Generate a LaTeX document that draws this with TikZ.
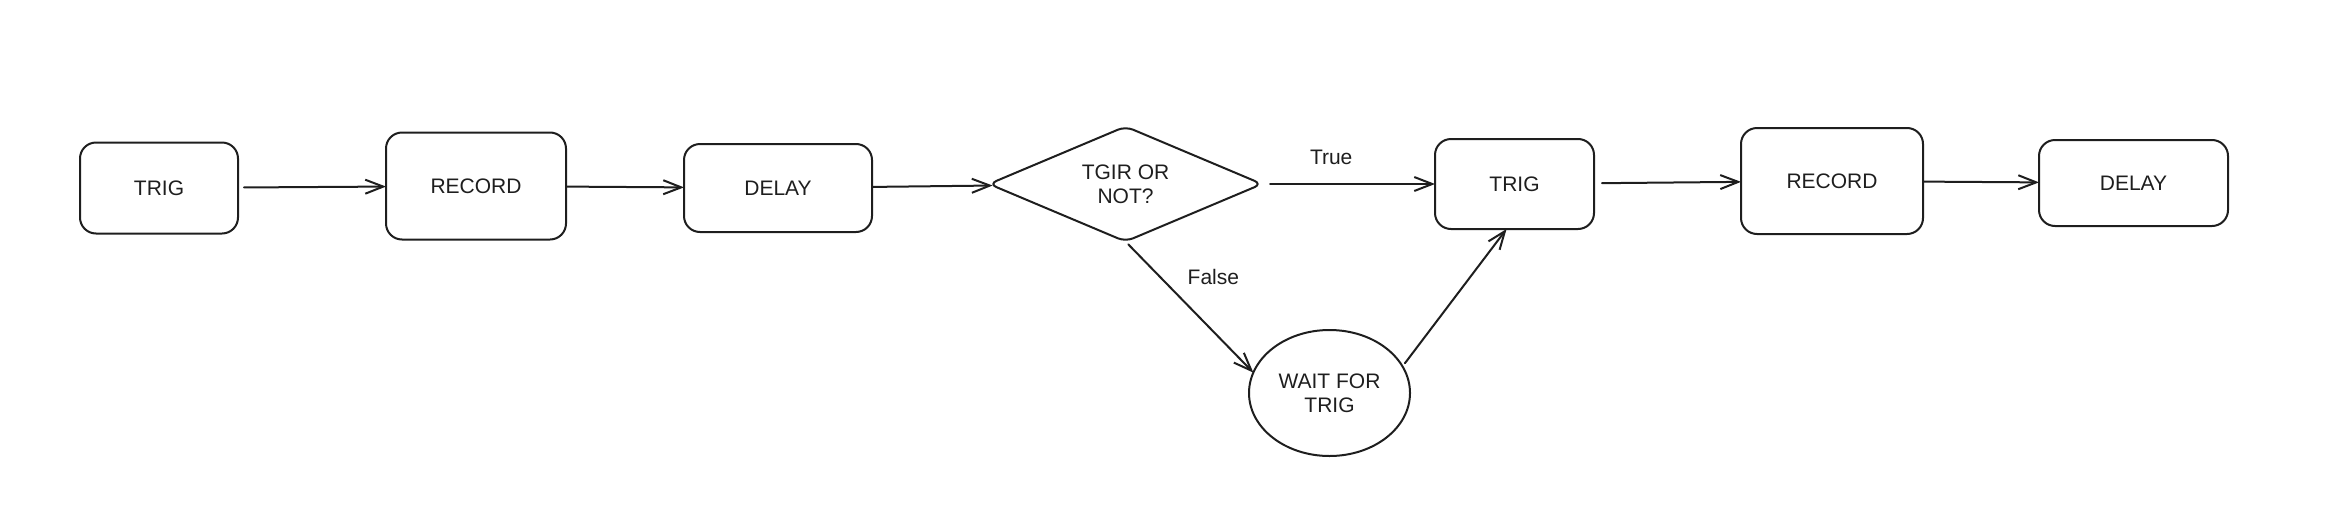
\documentclass[tikz,border=0pt]{standalone}
\usepackage{fontspec}
\setmainfont{Liberation Sans}
\usetikzlibrary{positioning,shapes.geometric,arrows.meta}
\definecolor{ink}{HTML}{1E1E1E}

\begin{document}
\begin{tikzpicture}[
		font=\fontsize{10.5}{12}\selectfont
		,color=ink, line width=1pt, line cap=round, line join=round
		,>={Straight Barb[length=9pt,width=7pt]}
		,b/.style={draw, rounded corners=8pt, inner sep=0pt, outer sep=0pt}
		,q/.style={draw, diamond, aspect=2.4, minimum width=136.5pt, minimum height=57.5pt, inner sep=0pt, outer sep=0pt, align=center, rounded corners=4pt}
		,w/.style={draw, ellipse, minimum width=80.5pt, minimum height=63pt, inner sep=0pt, outer sep=0pt, align=center}
	]
		\useasboundingbox (0,0) rectangle (1172.5pt,-254.5pt);

		\node[b, minimum width=79pt, minimum height=45.5pt] (T1) at (79.5pt,-94pt) {TRIG};
		\node[b, minimum width=90pt, minimum height=53.5pt, right=74pt of T1, yshift=1pt] (R1) {RECORD};
		\node[b, minimum width=94pt, minimum height=44pt, right=59pt of R1, yshift=-1pt] (D1) {DELAY};
		\node[q, right=58.5pt of D1, yshift=2pt] (Q) {TGIR OR\\NOT?};
		\node[b, minimum width=79.5pt, minimum height=45pt, right=86.5pt of Q] (T2) {TRIG};
		\node[b, minimum width=91pt, minimum height=53pt, right=73.5pt of T2, yshift=1.5pt] (R2) {RECORD};
		\node[b, minimum width=94.5pt, minimum height=43pt, right=58pt of R2, yshift=-1pt] (D2) {DELAY};
		\node[w] (W) at ([shift={(102pt,-104.5pt)}]Q.center) {WAIT FOR\\TRIG};

		\path[->] (T1) edge[shorten <=3pt] (R1);
		\path[->] (R1) edge (D1);
		\path[->] (D1) edge (Q);
		\path[->] (Q) edge[shorten <=4pt] node[pos=.4, above=6pt] {True} (T2);
		\path[->] (Q.south) edge[shorten <=2pt] node[pos=.27, right=10pt] {False} (W.165);
		\path[->] (W.20) edge[shorten <=2pt] (T2.260);
		\path[->] (T2) edge[shorten <=4pt] (R2);
		\path[->] (R2) edge (D2);
	\end{tikzpicture}
\end{document}
